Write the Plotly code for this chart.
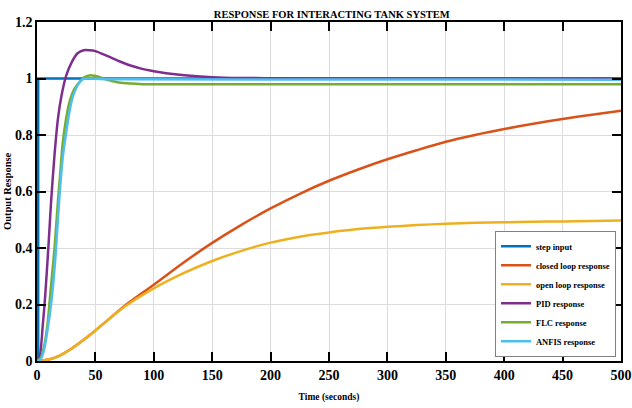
import plotly.graph_objects as go

# ---- data ----
step_t = [0, 1, 1, 500]
step_y = [0, 0, 1, 1]

slow_t = [0, 10, 20, 30, 40, 50, 60, 75, 100, 125, 150, 175, 200, 225, 250, 275,
          300, 325, 350, 375, 400, 425, 450, 475, 500]
closed_y = [0, 0.005, 0.02, 0.045, 0.075, 0.108, 0.143, 0.195, 0.27, 0.347, 0.418,
            0.482, 0.54, 0.592, 0.638, 0.678, 0.714, 0.746, 0.776, 0.80, 0.821,
            0.84, 0.857, 0.872, 0.886]
open_y = [0, 0.005, 0.02, 0.045, 0.075, 0.108, 0.143, 0.192, 0.257, 0.31, 0.354,
          0.39, 0.419, 0.44, 0.455, 0.467, 0.475, 0.481, 0.486, 0.489, 0.491,
          0.493, 0.494, 0.496, 0.497]

pid_t = [0, 2, 5, 7, 10, 12, 15, 18, 21, 25, 30, 35, 40, 45, 50, 60, 70, 80, 90,
         100, 120, 140, 160, 200, 250, 500]
pid_y = [0, 0.01, 0.13, 0.23, 0.42, 0.56, 0.73, 0.86, 0.94, 1.01, 1.06, 1.09,
         1.10, 1.10, 1.097, 1.08, 1.062, 1.046, 1.034, 1.026, 1.014, 1.007,
         1.003, 1.001, 1.0, 1.0]

flc_t = [0, 3, 6, 9, 11, 13, 15, 18, 20, 22, 25, 28, 31, 34, 37, 40, 45, 50, 55,
         60, 65, 70, 80, 90, 500]
flc_y = [0, 0.01, 0.05, 0.13, 0.22, 0.31, 0.40, 0.57, 0.67, 0.77, 0.86, 0.92,
         0.955, 0.975, 0.99, 1.003, 1.011, 1.009, 1.003, 0.995, 0.99, 0.986,
         0.982, 0.98, 0.98]

anfis_t = [0, 3, 6, 9, 12, 14, 16, 19, 22, 25, 28, 31, 34, 38, 42, 50, 70, 500]
anfis_y = [0, 0.005, 0.04, 0.11, 0.2, 0.28, 0.38, 0.57, 0.72, 0.81, 0.888, 0.94,
           0.97, 0.995, 1.0, 0.999, 0.997, 0.996]

names = ["step input", "closed loop response", "open loop response",
         "PID response", "FLC response", "ANFIS response"]
colors = ["#0072BD", "#D95319", "#EDB120", "#7E2F8E", "#77AC30", "#4DBEEE"]
shapes = ["linear", "spline", "spline", "spline", "spline", "spline"]

x_ticks = list(range(0, 501, 50))
y_ticks = [0, 0.2, 0.4, 0.6, 0.8, 1.0, 1.2]

series = [(step_t, step_y), (slow_t, closed_y), (slow_t, open_y),
          (pid_t, pid_y), (flc_t, flc_y), (anfis_t, anfis_y)]

fig = go.Figure()
for (tx, ty), nm, col, sh in zip(series, names, colors, shapes):
    fig.add_trace(go.Scatter(x=tx, y=ty, mode="lines", name=nm,
                             line=dict(color=col, width=2.5, shape=sh,
                                       smoothing=0.8 if sh == "spline" else None)))

serif = "Liberation Serif"
axis_common = dict(showline=True, linecolor="black", linewidth=1.5, mirror="ticks",
                   ticks="inside", ticklen=9, tickwidth=1.5, tickcolor="black",
                   showgrid=True, gridcolor="#dcdcdc", gridwidth=1, zeroline=False,
                   automargin=False,
                   tickfont=dict(family=serif, size=14, color="black", weight="bold"))

plot_l, plot_r = 36.5, 621
fig.update_layout(
    width=632, height=408,
    margin=dict(l=plot_l, r=632 - plot_r, t=22, b=47),
    paper_bgcolor="white", plot_bgcolor="white",
    title=dict(text="RESPONSE FOR INTERACTING TANK SYSTEM", x=0.525, xanchor="center",
               y=1 - 14 / 408, yanchor="middle", yref="container",
               font=dict(family=serif, size=10.5, color="black", weight="bold")),
    xaxis=dict(range=[0, 500], tickvals=x_ticks,
               title=dict(text="Time (seconds)", standoff=12,
                          font=dict(family=serif, size=9.5, color="black", weight="bold")),
               **axis_common),
    yaxis=dict(range=[0, 1.2], tickvals=y_ticks, **axis_common),
    legend=dict(x=0.9914, xanchor="right", y=0.384, yanchor="top",
                bgcolor="white", bordercolor="#808080", borderwidth=1,
                font=dict(family=serif, size=8.5, color="black", weight="bold"),
                tracegroupgap=0),
    showlegend=True,
)
fig.add_annotation(text="Output Response", textangle=-90, showarrow=False,
                   xref="paper", yref="paper",
                   x=(7 - plot_l) / (plot_r - plot_l), y=0.5,
                   xanchor="center", yanchor="middle",
                   font=dict(family=serif, size=10.5, color="black", weight="bold"))

fig.write_html("out.html")
